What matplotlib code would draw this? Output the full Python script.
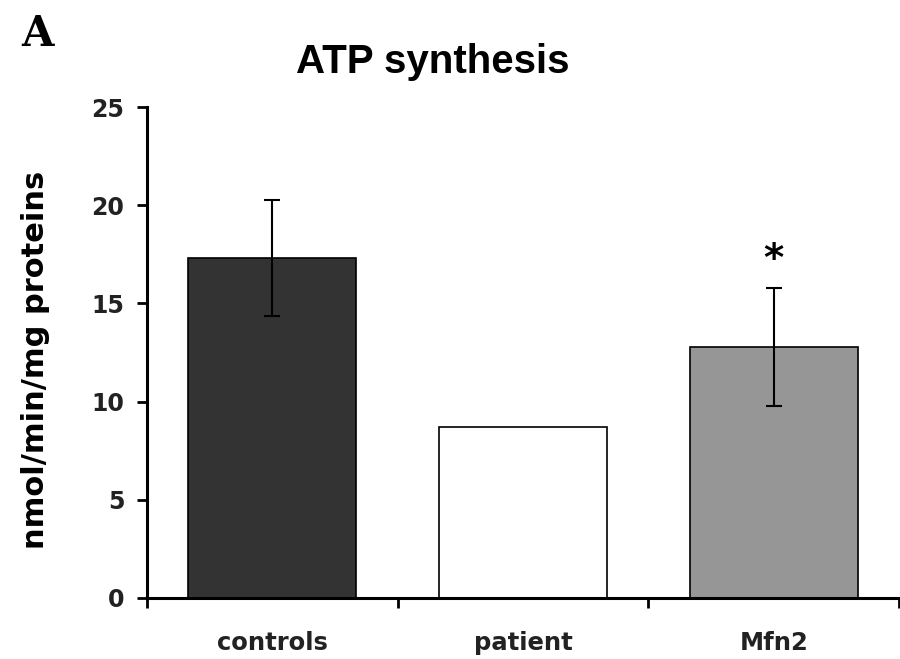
import matplotlib
matplotlib.use('Agg')
import matplotlib.pyplot as plt

groups = ['controls', 'patient', 'Mfn2']
atp = [17.3, 8.7, 12.8]
err = [2.95, 0, 3.0]
colors = ['#333333', '#ffffff', '#969696']

plt.rcParams['font.family'] = ['DejaVu Sans']

fig = plt.figure(figsize=(9, 6.59), dpi=100)
ax = fig.add_axes([0.163, 0.0926, 0.836, 0.745])

x = list(range(len(groups)))
ax.bar(x, atp, width=0.67, color=colors, edgecolor='black', linewidth=1.2, zorder=2)
ax.errorbar([0, 2], [atp[0], atp[2]], yerr=[err[0], err[2]], fmt='none',
            ecolor='black', elinewidth=1.5, capsize=6, capthick=1.5, zorder=3)
ax.text(2, atp[2] + err[2] + 0.45, '*', ha='center', va='bottom',
        fontsize=28, fontweight='bold')

ax.set_xlim(-0.5, 2.5)
ax.set_ylim(0, 25)
ax.set_yticks([0, 5, 10, 15, 20, 25])
ax.set_xticks([-0.5, 0.5, 1.5, 2.5])
ax.set_xticklabels([])
ax.set_xticks(x, minor=True)
ax.set_xticklabels(groups, minor=True, fontsize=17.5, fontweight='bold', color='#222222')
ax.tick_params(axis='x', which='minor', length=0, pad=24)
ax.tick_params(axis='x', which='major', length=7, width=2, direction='out')
ax.tick_params(axis='y', length=7, width=2, direction='out', labelsize=17, pad=9)
for lab in ax.get_yticklabels():
    lab.set_fontweight('bold')
    lab.set_color('#222222')

for s in ['top', 'right']:
    ax.spines[s].set_visible(False)
for s in ['left', 'bottom']:
    ax.spines[s].set_linewidth(2.2)

fig.text(0.039, 0.454, 'nmol/min/mg proteins', rotation=90, ha='center', va='center',
         fontsize=22, fontweight='bold')
fig.text(0.481, 0.906, 'ATP synthesis', ha='center', va='center',
         fontsize=29, fontweight='bold', family='Liberation Sans')
fig.text(0.042, 0.948, 'A', ha='center', va='center', fontsize=30,
         fontweight='bold', family='DejaVu Serif')

fig.savefig('out.png', dpi=100)
